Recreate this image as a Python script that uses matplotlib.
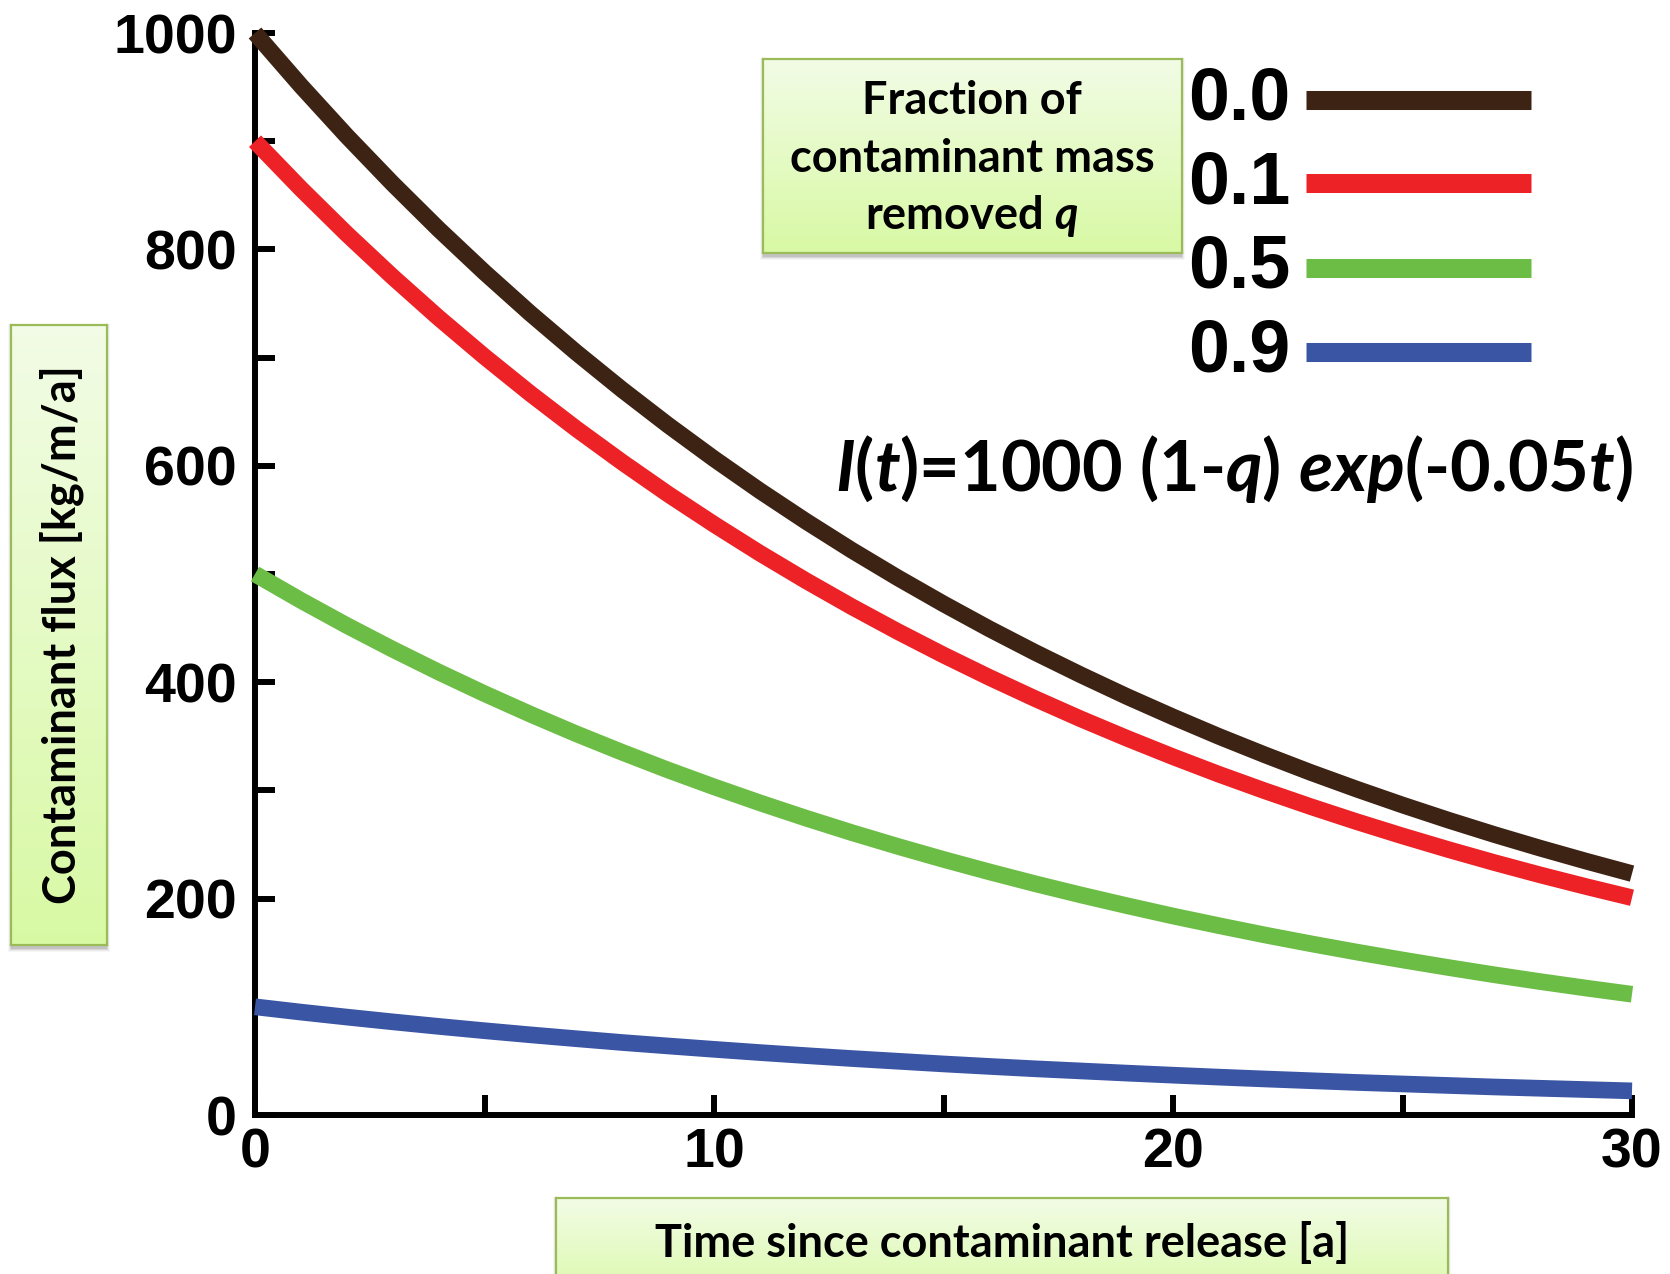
import numpy as np
import matplotlib
matplotlib.use("Agg")
import matplotlib.pyplot as plt
from matplotlib.patches import Rectangle
from matplotlib.lines import Line2D
from matplotlib.colors import to_rgb

# ---------------- data ----------------
time_a = list(range(0, 31))
flux_q00 = [1000, 951.2, 904.8, 860.7, 818.7, 778.8, 740.8, 704.7, 670.3, 637.6, 606.5,
            576.9, 548.8, 522.0, 496.6, 472.4, 449.3, 427.4, 406.6, 386.7, 367.9,
            349.9, 332.9, 316.6, 301.2, 286.5, 272.5, 259.2, 246.6, 234.6, 223.1]
flux_q01 = [900, 856.1, 814.3, 774.6, 736.8, 700.9, 666.7, 634.2, 603.3, 573.8, 545.9,
            519.2, 493.9, 469.8, 446.9, 425.1, 404.4, 384.7, 365.9, 348.1, 331.1,
            314.9, 299.6, 285.0, 271.1, 257.9, 245.3, 233.3, 221.9, 211.1, 200.8]
flux_q05 = [500, 475.6, 452.4, 430.4, 409.4, 389.4, 370.4, 352.3, 335.2, 318.8, 303.3,
            288.5, 274.4, 261.0, 248.3, 236.2, 224.7, 213.7, 203.3, 193.4, 183.9,
            175.0, 166.4, 158.3, 150.6, 143.3, 136.3, 129.6, 123.3, 117.3, 111.6]
flux_q09 = [100, 95.1, 90.5, 86.1, 81.9, 77.9, 74.1, 70.5, 67.0, 63.8, 60.7,
            57.7, 54.9, 52.2, 49.7, 47.2, 44.9, 42.7, 40.7, 38.7, 36.8,
            35.0, 33.3, 31.7, 30.1, 28.7, 27.3, 25.9, 24.7, 23.5, 22.3]
fraction_labels = ["0.0", "0.1", "0.5", "0.9"]
series = [flux_q00, flux_q01, flux_q05, flux_q09]
colors = ["#3d2314", "#ed2227", "#6cbd45", "#3a55a4"]
xticks_major = [0, 10, 20, 30]
xticks_minor = [5, 15, 25]
yticks_major = [0, 200, 400, 600, 800, 1000]
yticks_minor = [100, 300, 500, 700, 900]

W, H = 1670, 1274
plt.rcParams["mathtext.fontset"] = "custom"
plt.rcParams["mathtext.it"] = "Lato:italic:bold"
plt.rcParams["mathtext.rm"] = "Lato:bold"
plt.rcParams["mathtext.bf"] = "Lato:bold"

fig = plt.figure(figsize=(W / 100, H / 100), dpi=100)


def fx(px):
    return px / W


def fy(py):
    return 1 - py / H


# ---------------- main axes ----------------
x_left, x_right, y_top, y_bot = 255, 1632, 33, 1115
ax = fig.add_axes([fx(x_left), fy(y_bot), (x_right - x_left) / W, (y_bot - y_top) / H])
ax.set_zorder(2)
ax.set_xlim(0, 30)
ax.set_ylim(0, 1000)
for s in ["top", "right"]:
    ax.spines[s].set_visible(False)
for s in ["left", "bottom"]:
    ax.spines[s].set_linewidth(4.3)
    ax.spines[s].set_color("black")
ax.set_xticks(xticks_major)
ax.set_xticks(xticks_minor, minor=True)
ax.set_yticks(yticks_major)
ax.set_yticks(yticks_minor, minor=True)
ax.tick_params(which="both", direction="in", length=14.4, width=4.3, color="black")
ax.tick_params(axis="y", which="both", pad=13)
ax.tick_params(axis="x", which="both", pad=9)
tick_font = dict(family="Liberation Sans", weight="bold", size=40)
ax.set_xticklabels([str(v) for v in xticks_major], fontdict=tick_font)
ax.set_yticklabels([str(v) for v in yticks_major], fontdict=tick_font)
ax.patch.set_alpha(0)

for vals, c in zip(series, colors):
    ax.plot(time_a, vals, color=c, lw=12, solid_capstyle="butt",
            solid_joinstyle="round", clip_on=False, zorder=3)


# ---------------- gradient boxes ----------------
def gbox(x0, y0, x1, y1):
    # soft shadow
    for k, a in enumerate([0.10, 0.07, 0.05, 0.03]):
        g = k + 1
        r = Rectangle((fx(x0 - g + 1), fy(y1 + 3 + g)), (x1 - x0 + 2 * g - 2) / W,
                      (y1 - y0 + 2 * g) / H, transform=fig.transFigure,
                      facecolor="black", edgecolor="none", alpha=a, zorder=-5)
        fig.patches.append(r)
    bax = fig.add_axes([fx(x0), fy(y1), (x1 - x0) / W, (y1 - y0) / H])
    bax.set_zorder(1)
    top = np.array(to_rgb("#f2fce6"))
    bot = np.array(to_rgb("#d8f9a4"))
    f = np.linspace(0, 1, 256)[:, None, None]
    img = top * (1 - f) + bot * f
    img = np.repeat(img, 2, axis=1)
    bax.imshow(img, aspect="auto", extent=[0, 1, 0, 1], interpolation="bilinear")
    bax.set_xticks([])
    bax.set_yticks([])
    for s in bax.spines.values():
        s.set_color("#9bbb59")
        s.set_linewidth(1.6)
    return bax


label_font = dict(family="Lato", weight="bold", size=32.5, color="black", zorder=10)

# legend title box
gbox(763, 59, 1182, 253)
fig.text(fx(972), fy(114), "Fraction of", ha="center", va="baseline", **label_font)
fig.text(fx(972), fy(172), "contaminant mass", ha="center", va="baseline", **label_font)
fig.text(fx(972), fy(229), r"removed $q$", ha="center", va="baseline", **label_font)

# y label box
gbox(11, 325, 107, 945)
fig.text(fx(62), fy(635), "Contaminant flux [kg/m/a]", rotation=90,
         ha="center", va="center", **label_font)

# x label box (runs off the bottom edge)
gbox(556, 1198, 1448, 1310)
fig.text(fx(1002), fy(1257), "Time since contaminant release [a]",
         ha="center", va="baseline", **label_font)

# ---------------- legend entries ----------------
legend_y = [100, 183, 268, 352]
for lab, c, yy in zip(fraction_labels, colors, legend_y):
    fig.add_artist(Line2D([fx(1306), fx(1531)], [fy(yy), fy(yy)], color=c, lw=13.7,
                          solid_capstyle="butt", transform=fig.transFigure))
    fig.text(fx(1290), fy(yy + 20), lab, ha="right", va="baseline",
             family="Liberation Sans", weight="bold", size=53, zorder=10)

# ---------------- formula ----------------
fig.text(fx(1633), fy(491), r"$I$($t$)=1000 (1-$q$) $exp$(-0.05$t$)",
         ha="right", va="baseline", family="Lato", weight="bold", size=50.5, zorder=10)

fig.savefig("out.png", dpi=100)
